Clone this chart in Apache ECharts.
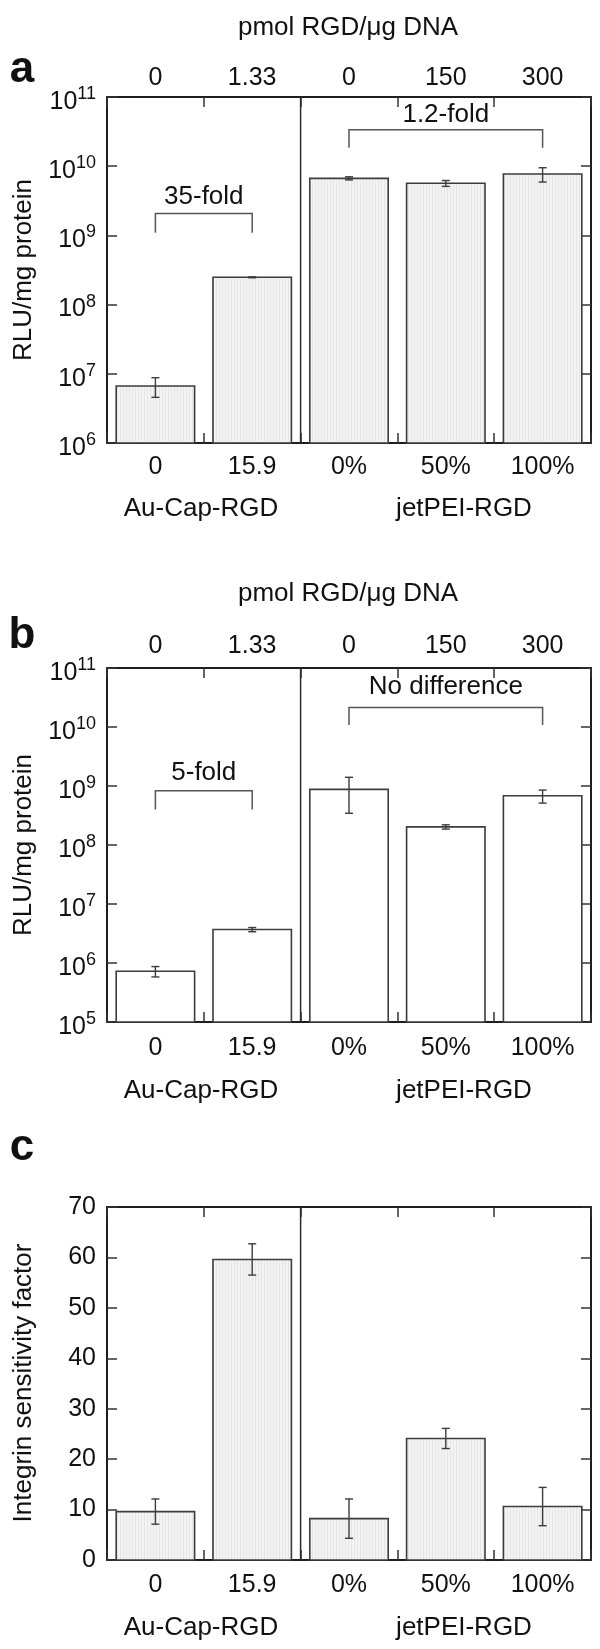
<!DOCTYPE html>
<html><head><meta charset="utf-8">
<script src="https://cdn.jsdelivr.net/npm/echarts@6/dist/echarts.min.js"></script>
<style>html,body{margin:0;padding:0;background:#fff}#c{width:600px;height:1649px}</style>
</head><body><div id="c"></div>
<script>
// ---------- data ----------
const topCategories = ['0', '1.33', '0', '150', '300'];
const bottomCategories = ['0', '15.9', '0%', '50%', '100%'];
const groupLabels = ['Au-Cap-RGD', 'jetPEI-RGD'];
const topTitle = 'pmol RGD/μg DNA';

const valuesA = [6.67e6, 2.48e8, 6.68e9, 5.66e9, 7.7e9];
const errorsA = [2.1e6, 4e6, 0.35e9, 0.55e9, 1.8e9];
const valuesB = [7.25e5, 3.69e6, 8.75e8, 2.03e8, 6.83e8];
const errorsB = [1.45e5, 0.3e6, 5.3e8, 0.17e8, 1.7e8];
const valuesC = [9.6, 59.6, 8.2, 24.1, 10.6];
const errorsC = [2.5, 3.1, 3.9, 2.0, 3.8];

// [fromIndex, toIndex, lineValue, footValue, textValue]
const bracketsA = [[0, 1, 2.08e9, 1.09e9, 3.62e9], [2, 4, 3.36e10, 1.85e10, 5.5e10]];
const bracketLabelsA = ['35-fold', '1.2-fold'];
const bracketsB = [[0, 1, 8.28e8, 4.0e8, 1.64e9], [2, 4, 2.15e10, 1.08e10, 4.8e10]];
const bracketLabelsB = ['5-fold', 'No difference'];
const dividerIndex = 2;

const yRangeA = [1e6, 1e11];
const yRangeB = [1e5, 1e11];
const yRangeC = [0, 70];
const yIntervalC = 10;

// ---------- styles ----------
const FONT = '"Liberation Sans", Arial, Helvetica, sans-serif';
const TXT = '#111';
const FRAME = '#1e1e1e';
const EDGE = '#3c3c3c';

function makePattern() {
  const c = document.createElement('canvas');
  c.width = 3; c.height = 4;
  const g = c.getContext('2d');
  g.fillStyle = '#f3f3f3'; g.fillRect(0, 0, 3, 4);
  g.fillStyle = '#e6e6e6'; g.fillRect(0, 0, 1, 4);
  return c;
}
const grayFill = { image: makePattern(), repeat: 'repeat' };

const grids = [
  { left: 107, width: 484, top: 97, height: 346 },
  { left: 107, width: 484, top: 668, height: 354 },
  { left: 107, width: 484, top: 1207, height: 353 }
];

const tick = { show: true, inside: true, length: 10, lineStyle: { color: '#333', width: 1.5 } };
const line = { show: true, onZero: false, lineStyle: { color: FRAME, width: 2 } };

function xAxes(gi, topLabels, bottomMargin, topMargin) {
  return [
    { type: 'category', gridIndex: gi, position: 'bottom', data: bottomCategories,
      axisLine: line, axisTick: tick, splitLine: { show: false },
      axisLabel: { interval: 0, margin: bottomMargin, fontSize: 25, fontFamily: FONT, color: TXT } },
    { type: 'category', gridIndex: gi, position: 'top', data: topCategories,
      axisLine: line, axisTick: tick, splitLine: { show: false },
      axisLabel: { show: topLabels, interval: 0, margin: topMargin, fontSize: 25, fontFamily: FONT, color: TXT } }
  ];
}

const powLabel = {
  margin: 11, fontFamily: FONT, color: TXT, showMinLabel: true, showMaxLabel: true,
  formatter: v => '{b|10}{s|' + Math.round(Math.log10(v)) + '}',
  rich: {
    b: { fontSize: 25, fontFamily: FONT, color: TXT, padding: [10, 0, 0, 0] },
    s: { fontSize: 18, fontFamily: FONT, color: TXT, padding: [0, 0, 6, 0] }
  }
};

function logYAxes(gi, range) {
  return [
    { type: 'log', logBase: 10, gridIndex: gi, position: 'left', min: range[0], max: range[1],
      axisLine: line, axisTick: tick, splitLine: { show: false }, axisLabel: powLabel },
    { type: 'log', logBase: 10, gridIndex: gi, position: 'right', min: range[0], max: range[1],
      axisLine: line, axisTick: tick, splitLine: { show: false }, axisLabel: { show: false } }
  ];
}
function linYAxes(gi, range, interval) {
  const lab = { margin: 11, fontSize: 25, fontFamily: FONT, color: TXT, showMinLabel: true, showMaxLabel: true };
  return [
    { type: 'value', gridIndex: gi, position: 'left', min: range[0], max: range[1], interval,
      axisLine: line, axisTick: tick, splitLine: { show: false }, axisLabel: lab },
    { type: 'value', gridIndex: gi, position: 'right', min: range[0], max: range[1], interval,
      axisLine: line, axisTick: tick, splitLine: { show: false }, axisLabel: { show: false } }
  ];
}

function barRenderer(fill) {
  return function (params, api) {
    const i = api.value(0), v = api.value(1), e = api.value(2);
    const cs = params.coordSys;
    const band = api.coord([1, v])[0] - api.coord([0, v])[0];
    const bw = band * 0.81;
    const p = api.coord([i, v]);
    const yb = cs.y + cs.height;
    const hi = api.coord([i, v + e])[1];
    const lo = api.coord([i, v - e])[1];
    const st = { stroke: EDGE, lineWidth: 1.4 };
    return { type: 'group', children: [
      { type: 'rect', shape: { x: p[0] - bw / 2, y: p[1], width: bw, height: yb - p[1] },
        style: { fill: fill, stroke: EDGE, lineWidth: 1.6 } },
      { type: 'line', shape: { x1: p[0], y1: hi, x2: p[0], y2: lo }, style: st },
      { type: 'line', shape: { x1: p[0] - 4, y1: hi, x2: p[0] + 4, y2: hi }, style: st },
      { type: 'line', shape: { x1: p[0] - 4, y1: lo, x2: p[0] + 4, y2: lo }, style: st }
    ] };
  };
}

function dividerRenderer(params, api) {
  const cs = params.coordSys;
  const k = api.value(0), yv = api.value(1);
  const x = (api.coord([k - 1, yv])[0] + api.coord([k, yv])[0]) / 2;
  return { type: 'line', shape: { x1: x, y1: cs.y, x2: x, y2: cs.y + cs.height },
    style: { stroke: '#2a2a2a', lineWidth: 1.5 } };
}

function bracketRenderer(labels) {
  return function (params, api) {
    const a = api.value(0), b = api.value(1);
    const yl = api.coord([a, api.value(2)])[1];
    const yf = api.coord([a, api.value(3)])[1];
    const yt = api.coord([a, api.value(4)])[1];
    const xa = api.coord([a, api.value(2)])[0];
    const xb = api.coord([b, api.value(2)])[0];
    return { type: 'group', children: [
      { type: 'polyline', shape: { points: [[xa, yf], [xa, yl], [xb, yl], [xb, yf]] },
        style: { stroke: '#555', lineWidth: 1.5, fill: null } },
      { type: 'text', x: (xa + xb) / 2, y: yt,
        style: { text: labels[params.dataIndex], fontSize: 26, fontFamily: FONT, fill: TXT,
          align: 'center', verticalAlign: 'middle' } }
    ] };
  };
}

function barSeries(xi, yi, vals, errs, fill) {
  return { type: 'custom', xAxisIndex: xi, yAxisIndex: yi, renderItem: barRenderer(fill),
    encode: { x: 0, y: 1 }, data: vals.map((v, i) => [i, v, errs[i]]), z: 3 };
}
function dividerSeries(xi, yi, yRef) {
  return { type: 'custom', xAxisIndex: xi, yAxisIndex: yi, renderItem: dividerRenderer,
    encode: { x: 0, y: 1 }, data: [[dividerIndex, yRef]], z: 2 };
}
function bracketSeries(xi, yi, br, labels) {
  return { type: 'custom', xAxisIndex: xi, yAxisIndex: yi, renderItem: bracketRenderer(labels),
    encode: { x: 0, y: 2 }, data: br, z: 4 };
}

function txt(text, x, y, size, extra) {
  return Object.assign({ type: 'text', x, y, style: { text, fontSize: size || 26, fontFamily: FONT, fill: TXT,
    align: 'center', verticalAlign: 'middle' } }, extra || {});
}
function bold(text, x, y) {
  const t = txt(text, x, y, 44);
  t.style.fontWeight = 'bold';
  return t;
}

const graphic = [
  bold('a', 22, 70), bold('b', 22, 636), bold('c', 22, 1148),
  txt(topTitle, 348, 28, 26), txt(topTitle, 348, 594, 26),
  txt(groupLabels[0], 201, 509), txt(groupLabels[1], 464, 509),
  txt(groupLabels[0], 201, 1091), txt(groupLabels[1], 464, 1091),
  txt(groupLabels[0], 201, 1628), txt(groupLabels[1], 464, 1628),
  txt('RLU/mg protein', 24, 270, 26, { rotation: Math.PI / 2 }),
  txt('RLU/mg protein', 24, 845, 26, { rotation: Math.PI / 2 }),
  txt('Integrin sensitivity factor', 24, 1383, 26, { rotation: Math.PI / 2 })
];

const option = {
  animation: false,
  backgroundColor: '#fff',
  grid: grids.map(g => Object.assign({ outerBoundsMode: 'none', containLabel: false }, g)),
  xAxis: [].concat(xAxes(0, true, 11.5, 6.5), xAxes(1, true, 14, 9.5), xAxes(2, false, 13, 10)),
  yAxis: [].concat(logYAxes(0, yRangeA), logYAxes(1, yRangeB), linYAxes(2, yRangeC, yIntervalC)),
  series: [
    dividerSeries(0, 0, yRangeA[0]),
    barSeries(0, 0, valuesA, errorsA, grayFill),
    bracketSeries(0, 0, bracketsA, bracketLabelsA),
    dividerSeries(2, 2, yRangeB[0]),
    barSeries(2, 2, valuesB, errorsB, '#ffffff'),
    bracketSeries(2, 2, bracketsB, bracketLabelsB),
    dividerSeries(4, 4, yRangeC[0]),
    barSeries(4, 4, valuesC, errorsC, grayFill)
  ],
  graphic: graphic
};

const chart = echarts.init(document.getElementById('c'), null, { renderer: 'canvas' });
chart.setOption(option);
</script>
</body></html>
